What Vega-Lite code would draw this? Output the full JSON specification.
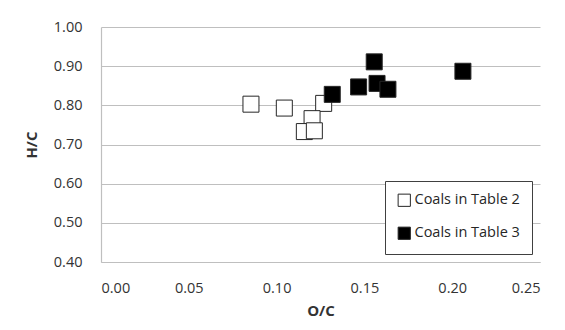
{
  "$schema": "https://vega.github.io/schema/vega-lite/v6.json",
  "autosize": {"type": "none"},
  "padding": {"left": 101, "top": 27, "right": 25, "bottom": 68},
  "width": 439,
  "height": 235,
  "background": "white",
  "config": {
    "view": {"stroke": null},
    "font": "Open Sans",
    "axis": {
      "labelFont": "Open Sans",
      "labelFontSize": 14.5,
      "labelColor": "#333333",
      "titleFont": "Open Sans",
      "titleFontSize": 15,
      "titleFontWeight": "bold",
      "titleColor": "#333333",
      "domainColor": "#bfbfbf",
      "domainWidth": 1.2,
      "gridColor": "#bfbfbf",
      "gridWidth": 1.2,
      "ticks": false
    }
  },
  "data": {
    "values": [
      {"oc": 0.0854, "hc": 0.803, "series": "Coals in Table 2"},
      {"oc": 0.1044, "hc": 0.793, "series": "Coals in Table 2"},
      {"oc": 0.1268, "hc": 0.805, "series": "Coals in Table 2"},
      {"oc": 0.1202, "hc": 0.766, "series": "Coals in Table 2"},
      {"oc": 0.1158, "hc": 0.733, "series": "Coals in Table 2"},
      {"oc": 0.1215, "hc": 0.735, "series": "Coals in Table 2"},
      {"oc": 0.1317, "hc": 0.828, "series": "Coals in Table 3"},
      {"oc": 0.1467, "hc": 0.847, "series": "Coals in Table 3"},
      {"oc": 0.1556, "hc": 0.911, "series": "Coals in Table 3"},
      {"oc": 0.1572, "hc": 0.856, "series": "Coals in Table 3"},
      {"oc": 0.1634, "hc": 0.841, "series": "Coals in Table 3"},
      {"oc": 0.2061, "hc": 0.887, "series": "Coals in Table 3"}
    ]
  },
  "mark": {"type": "point", "shape": "square", "filled": true, "size": 256, "stroke": "#262626", "strokeWidth": 1, "opacity": 1},
  "encoding": {
    "x": {
      "field": "oc", "type": "quantitative", "title": "O/C",
      "scale": {"domain": [0, 0.25], "nice": false, "zero": false},
      "axis": {"values": [0, 0.05, 0.1, 0.15, 0.2, 0.25], "format": ".2f", "grid": false, "labelPadding": 19, "titlePadding": 9}
    },
    "y": {
      "field": "hc", "type": "quantitative", "title": "H/C",
      "scale": {"domain": [0.4, 1.0], "nice": false, "zero": false},
      "axis": {"values": [0.4, 0.5, 0.6, 0.7, 0.8, 0.9, 1.0], "format": ".2f", "grid": true, "labelPadding": 19, "titlePadding": 14}
    },
    "fill": {
      "field": "series", "type": "nominal",
      "scale": {"domain": ["Coals in Table 2", "Coals in Table 3"], "range": ["#ffffff", "#000000"]},
      "legend": {
        "title": null,
        "orient": "none",
        "legendX": 284,
        "legendY": 154,
        "direction": "vertical",
        "symbolType": "square",
        "symbolSize": 150,
        "symbolStrokeColor": "#262626",
        "symbolStrokeWidth": 1,
        "labelFont": "Open Sans",
        "labelFontSize": 14.5,
        "labelColor": "#262626",
        "labelOffset": 3,
        "rowPadding": 16,
        "padding": 12,
        "strokeColor": "#404040",
        "fillColor": "white"
      }
    }
  }
}
